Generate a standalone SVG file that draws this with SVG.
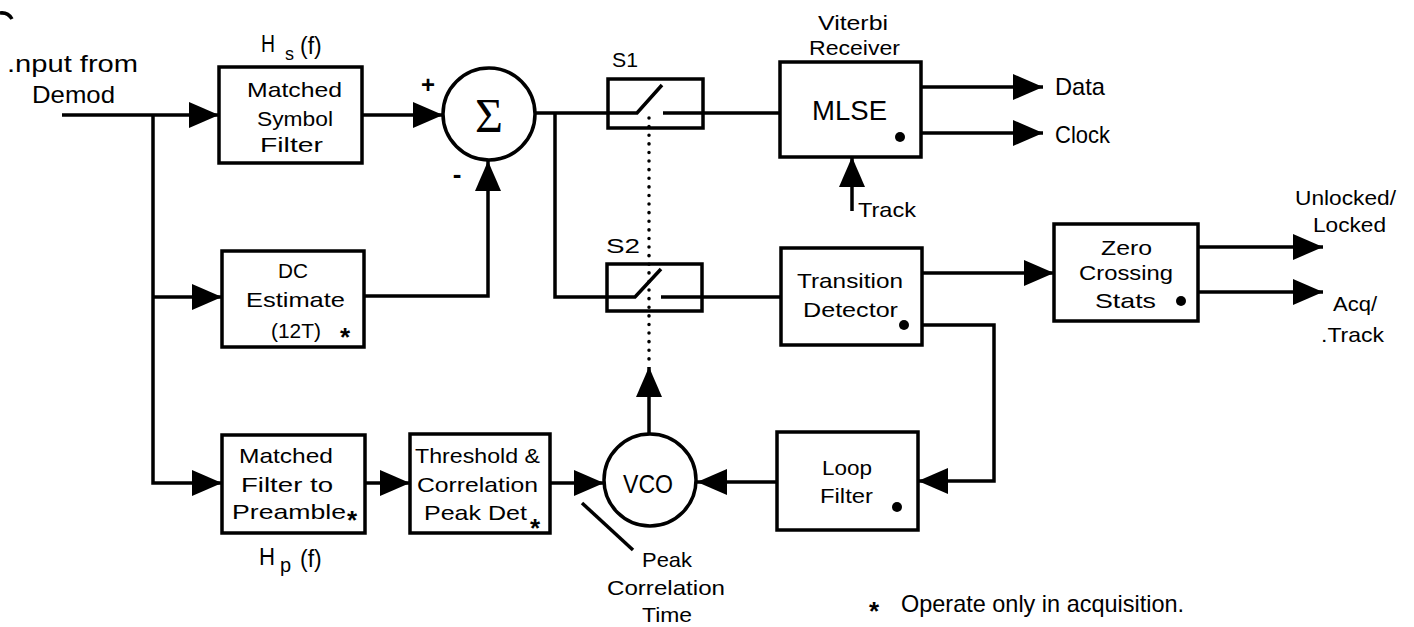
<svg xmlns="http://www.w3.org/2000/svg" width="1414" height="627" viewBox="0 0 1414 627">
<defs>
<style>
.box{fill:#fff;stroke:#000;stroke-width:3.5}
.wire{fill:none;stroke:#000;stroke-width:3.5}
.dot{fill:#000}
.t{font-family:"Liberation Sans",Arial,sans-serif;font-size:21px;fill:#000}
.lg{font-size:24px}
.ast{font-family:"Liberation Sans",Arial,sans-serif;font-size:26px;font-weight:bold;fill:#000}
</style>
<marker id="ah" markerUnits="userSpaceOnUse" markerWidth="30" markerHeight="26" refX="30" refY="13" orient="auto">
<path d="M0,0 L30,13 L0,26 z" fill="#000"/>
</marker>
</defs>
<rect width="1414" height="627" fill="#fff"/>

<g id="connectors">
<path class="wire" d="M0,13 Q8,12 12,19" stroke-width="2"/>
<path class="wire" d="M62,115 H219" marker-end="url(#ah)"/>
<path class="wire" d="M153,115 V483 H222" marker-end="url(#ah)"/>
<path class="wire" d="M153,297 H222" marker-end="url(#ah)"/>
<path class="wire" d="M362,115 H443" marker-end="url(#ah)"/>
<path class="wire" d="M364,296 H488 V161" marker-end="url(#ah)"/>
<path class="wire" d="M535,113 H637 L662,85"/>
<path class="wire" d="M663,113 H780"/>
<path class="wire" d="M555,113 V297 H635 L661,269"/>
<path class="wire" d="M661,297 H781"/>
<path class="wire" d="M649,118 V366" stroke-width="3.5" stroke-dasharray="0.1 8.5" stroke-linecap="round"/>
<path class="wire" d="M649,433 V367" marker-end="url(#ah)"/>
<path class="wire" d="M365,483 H410" marker-end="url(#ah)"/>
<path class="wire" d="M550,483 H604" marker-end="url(#ah)"/>
<path class="wire" d="M777,482 H697" marker-end="url(#ah)"/>
<path class="wire" d="M922,325 H994 V481 H918" marker-end="url(#ah)"/>
<path class="wire" d="M922,273 H1054" marker-end="url(#ah)"/>
<path class="wire" d="M921,87 H1043" marker-end="url(#ah)"/>
<path class="wire" d="M921,133 H1043" marker-end="url(#ah)"/>
<path class="wire" d="M852,211 V157" marker-end="url(#ah)"/>
<path class="wire" d="M1198,247 H1323" marker-end="url(#ah)"/>
<path class="wire" d="M1198,292 H1323" marker-end="url(#ah)"/>
<path class="wire" d="M582,503 L633,550" stroke-width="2.5"/>
</g>

<g id="input-label">
<text class="t lg" x="7" y="72" textLength="131" lengthAdjust="spacingAndGlyphs">.nput from</text>
<text class="t lg" x="32" y="103" textLength="83" lengthAdjust="spacingAndGlyphs">Demod</text>
</g>

<g id="matched-symbol-filter">
<rect class="box" x="219" y="67" width="143" height="96"/>
<text class="t" x="247" y="97" textLength="95" lengthAdjust="spacingAndGlyphs">Matched</text>
<text class="t" x="257" y="126" textLength="76" lengthAdjust="spacingAndGlyphs">Symbol</text>
<text class="t" x="260" y="152" textLength="63" lengthAdjust="spacingAndGlyphs">Filter</text>
<text class="t" x="261" y="52" style="font-size:23px" textLength="14" lengthAdjust="spacingAndGlyphs">H</text>
<text class="t" x="285" y="60" style="font-size:18px">s</text>
<text class="t" x="300" y="54" style="font-size:23px">(f)</text>
</g>

<g id="sum">
<circle class="box" cx="489" cy="114" r="46"/>
<text x="489" y="132" text-anchor="middle" style="font-family:'Liberation Serif','Times New Roman',serif;font-size:48px">Σ</text>
<text class="t" x="428" y="93" text-anchor="middle" style="font-size:24px;font-weight:bold">+</text>
<text class="t" x="457" y="183" text-anchor="middle" style="font-size:26px;font-weight:bold">-</text>
</g>

<g id="dc-estimate">
<rect class="box" x="222" y="251" width="142" height="96"/>
<text class="t" x="293" y="278" text-anchor="middle" textLength="30" lengthAdjust="spacingAndGlyphs">DC</text>
<text class="t" x="246" y="307" textLength="99" lengthAdjust="spacingAndGlyphs">Estimate</text>
<text class="t" x="271" y="338" textLength="50" lengthAdjust="spacingAndGlyphs">(12T)</text>
<text class="ast" x="345" y="346" text-anchor="middle">*</text>
</g>

<g id="switch-s1">
<rect class="box" x="608" y="79" width="95" height="49" style="fill:none"/>
<text class="t" x="612" y="67" textLength="26" lengthAdjust="spacingAndGlyphs">S1</text>
</g>

<g id="switch-s2">
<rect class="box" x="607" y="264" width="95" height="47" style="fill:none"/>
<text class="t" x="606" y="253" textLength="34" lengthAdjust="spacingAndGlyphs">S2</text>
</g>

<g id="mlse">
<rect class="box" x="780" y="62" width="141" height="95"/>
<text class="t" x="818" y="30" textLength="70" lengthAdjust="spacingAndGlyphs">Viterbi</text>
<text class="t" x="809" y="55" textLength="91" lengthAdjust="spacingAndGlyphs">Receiver</text>
<text class="t" x="812" y="120" style="font-size:27px" textLength="75" lengthAdjust="spacingAndGlyphs">MLSE</text>
<circle class="dot" cx="900" cy="137" r="5"/>
</g>

<g id="outputs-mlse">
<text class="t lg" x="1055" y="95" textLength="50" lengthAdjust="spacingAndGlyphs">Data</text>
<text class="t lg" x="1055" y="143" textLength="55" lengthAdjust="spacingAndGlyphs">Clock</text>
<text class="t" x="858" y="217" textLength="58" lengthAdjust="spacingAndGlyphs">Track</text>
</g>

<g id="transition-detector">
<rect class="box" x="781" y="248" width="141" height="97"/>
<text class="t" x="797" y="288" textLength="106" lengthAdjust="spacingAndGlyphs">Transition</text>
<text class="t" x="803" y="317" textLength="95" lengthAdjust="spacingAndGlyphs">Detector</text>
<circle class="dot" cx="904" cy="325" r="5"/>
</g>

<g id="zero-crossing-stats">
<rect class="box" x="1054" y="224" width="144" height="97"/>
<text class="t" x="1101" y="255" textLength="51" lengthAdjust="spacingAndGlyphs">Zero</text>
<text class="t" x="1079" y="280" textLength="94" lengthAdjust="spacingAndGlyphs">Crossing</text>
<text class="t" x="1095" y="308" textLength="61" lengthAdjust="spacingAndGlyphs">Stats</text>
<circle class="dot" cx="1181" cy="301" r="5"/>
</g>

<g id="outputs-zc">
<text class="t" x="1295" y="205" textLength="101" lengthAdjust="spacingAndGlyphs">Unlocked/</text>
<text class="t" x="1313" y="232" textLength="73" lengthAdjust="spacingAndGlyphs">Locked</text>
<text class="t" x="1333" y="311" textLength="44" lengthAdjust="spacingAndGlyphs">Acq/</text>
<text class="t" x="1321" y="342" textLength="63" lengthAdjust="spacingAndGlyphs">.Track</text>
</g>

<g id="matched-filter-preamble">
<rect class="box" x="222" y="435" width="143" height="98"/>
<text class="t" x="239" y="463" textLength="94" lengthAdjust="spacingAndGlyphs">Matched</text>
<text class="t" x="241" y="492" textLength="92" lengthAdjust="spacingAndGlyphs">Filter to</text>
<text class="t" x="232" y="519" textLength="114" lengthAdjust="spacingAndGlyphs">Preamble</text>
<text class="ast" x="352" y="529" text-anchor="middle">*</text>
<text class="t" x="259" y="565" style="font-size:23px" textLength="16" lengthAdjust="spacingAndGlyphs">H</text>
<text class="t" x="280" y="572" style="font-size:20px">p</text>
<text class="t" x="300" y="567" style="font-size:23px">(f)</text>
</g>

<g id="threshold-peak-det">
<rect class="box" x="410" y="434" width="140" height="99"/>
<text class="t" x="415" y="463" textLength="125" lengthAdjust="spacingAndGlyphs">Threshold &amp;</text>
<text class="t" x="417" y="492" textLength="121" lengthAdjust="spacingAndGlyphs">Correlation</text>
<text class="t" x="424" y="520" textLength="103" lengthAdjust="spacingAndGlyphs">Peak Det</text>
<text class="ast" x="535" y="537" text-anchor="middle">*</text>
</g>

<g id="vco">
<circle class="box" cx="650" cy="480" r="46"/>
<text class="t" x="623" y="493" style="font-size:26px" textLength="50" lengthAdjust="spacingAndGlyphs">VCO</text>
<text class="t" x="642" y="567" textLength="50" lengthAdjust="spacingAndGlyphs">Peak</text>
<text class="t" x="607" y="595" textLength="118" lengthAdjust="spacingAndGlyphs">Correlation</text>
<text class="t" x="642" y="622" textLength="50" lengthAdjust="spacingAndGlyphs">Time</text>
</g>

<g id="loop-filter">
<rect class="box" x="777" y="432" width="141" height="98"/>
<text class="t" x="822" y="475" textLength="50" lengthAdjust="spacingAndGlyphs">Loop</text>
<text class="t" x="820" y="503" textLength="53" lengthAdjust="spacingAndGlyphs">Filter</text>
<circle class="dot" cx="897" cy="507" r="5"/>
</g>

<g id="footnote">
<text class="ast" x="874" y="620" text-anchor="middle">*</text>
<text class="t" x="901" y="612" style="font-size:24px" textLength="283" lengthAdjust="spacingAndGlyphs">Operate only in acquisition.</text>
</g>
</svg>
